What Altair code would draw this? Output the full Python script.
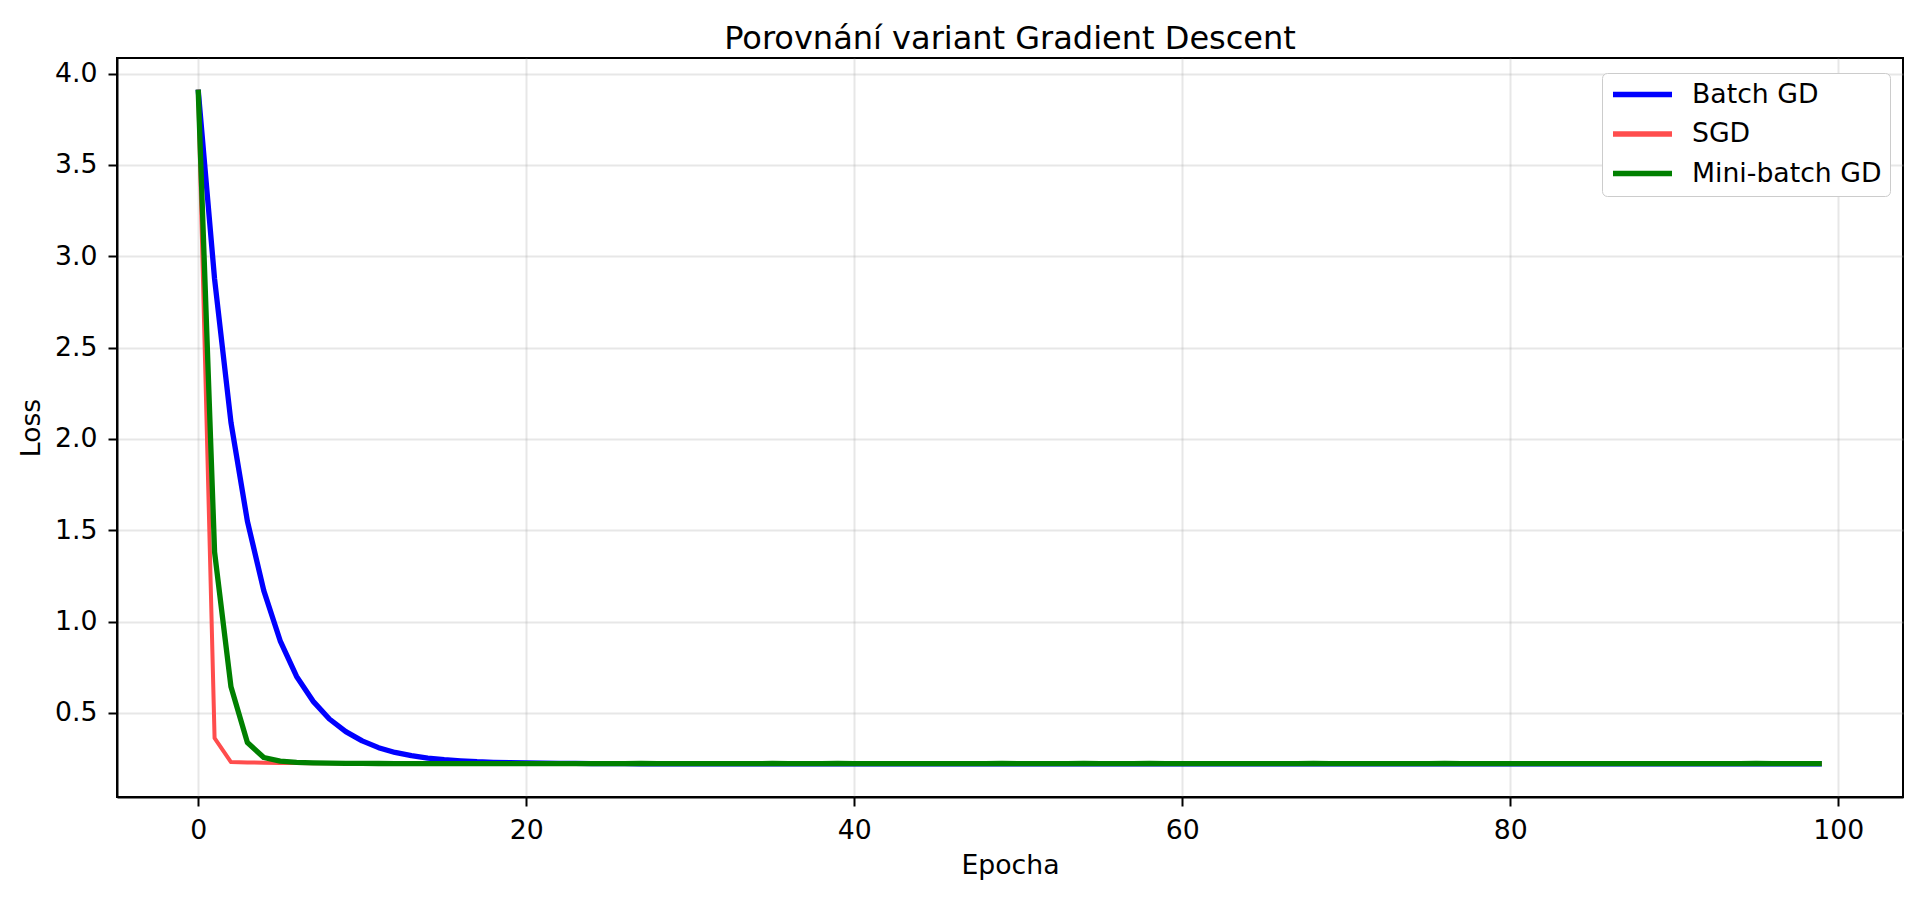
import altair as alt
import pandas as pd

# ---- data ----
series_names = ["Batch GD", "SGD", "Mini-batch GD"]
series_colors = ["#0000ff", "#ff4d4d", "#008000"]
series_widths = [5.3, 4.0, 5.3]

epochs = list(range(100))

batch_gd = [
    3.912, 2.875, 2.090, 1.550, 1.170, 0.895, 0.700, 0.565, 0.467, 0.398,
    0.347, 0.310, 0.284, 0.266, 0.253, 0.244, 0.238, 0.233, 0.230, 0.228,
    0.2265, 0.2255, 0.2245, 0.2238, 0.2232, 0.2228, 0.2224, 0.2221, 0.2219, 0.2217,
    0.2216, 0.2215, 0.2214, 0.2213, 0.2213, 0.2212, 0.2212, 0.2211, 0.2211, 0.2211,
    0.2210, 0.2210, 0.2210, 0.2210, 0.2210, 0.2210, 0.2210, 0.2210, 0.2210, 0.2210,
    0.2210, 0.2210, 0.2210, 0.2210, 0.2210, 0.2210, 0.2210, 0.2210, 0.2210, 0.2210,
    0.2210, 0.2210, 0.2210, 0.2210, 0.2210, 0.2210, 0.2210, 0.2210, 0.2210, 0.2210,
    0.2210, 0.2210, 0.2210, 0.2210, 0.2210, 0.2210, 0.2210, 0.2210, 0.2210, 0.2210,
    0.2210, 0.2210, 0.2210, 0.2210, 0.2210, 0.2210, 0.2210, 0.2210, 0.2210, 0.2210,
    0.2210, 0.2210, 0.2210, 0.2210, 0.2210, 0.2210, 0.2210, 0.2210, 0.2210, 0.2210,
]

sgd = [
    3.912, 0.362, 0.231, 0.2295, 0.228, 0.2265, 0.2255, 0.2248, 0.2242, 0.2238,
    0.2232, 0.2228, 0.2226, 0.2224, 0.2222, 0.2221, 0.2222, 0.2220, 0.2221, 0.2222,
    0.2221, 0.2220, 0.2222, 0.2221, 0.2220, 0.2221, 0.2222, 0.2221, 0.2220, 0.2221,
    0.2222, 0.2221, 0.2220, 0.2221, 0.2222, 0.2221, 0.2220, 0.2221, 0.2222, 0.2221,
    0.2220, 0.2221, 0.2222, 0.2221, 0.2220, 0.2221, 0.2222, 0.2221, 0.2220, 0.2221,
    0.2222, 0.2221, 0.2220, 0.2221, 0.2222, 0.2221, 0.2220, 0.2221, 0.2222, 0.2221,
    0.2220, 0.2221, 0.2222, 0.2221, 0.2220, 0.2221, 0.2222, 0.2221, 0.2220, 0.2221,
    0.2222, 0.2221, 0.2220, 0.2221, 0.2222, 0.2221, 0.2220, 0.2221, 0.2222, 0.2221,
    0.2220, 0.2221, 0.2222, 0.2221, 0.2220, 0.2221, 0.2222, 0.2221, 0.2220, 0.2221,
    0.2222, 0.2221, 0.2220, 0.2221, 0.2222, 0.2221, 0.2220, 0.2221, 0.2222, 0.2221,
]

mini_batch_gd = [
    3.912, 1.380, 0.643, 0.338, 0.256, 0.236, 0.2295, 0.2265, 0.2252, 0.2245,
    0.2238, 0.2233, 0.2230, 0.2228, 0.2227, 0.2226, 0.2225, 0.2226, 0.2225, 0.2225,
    0.2226, 0.2225, 0.2225, 0.2226, 0.2225, 0.2225, 0.2226, 0.2240, 0.2226, 0.2225,
    0.2225, 0.2226, 0.2225, 0.2225, 0.2226, 0.2236, 0.2225, 0.2226, 0.2225, 0.2235,
    0.2226, 0.2225, 0.2225, 0.2226, 0.2225, 0.2225, 0.2226, 0.2225, 0.2225, 0.2236,
    0.2225, 0.2226, 0.2225, 0.2225, 0.2236, 0.2225, 0.2226, 0.2225, 0.2237, 0.2226,
    0.2225, 0.2225, 0.2226, 0.2225, 0.2225, 0.2226, 0.2225, 0.2225, 0.2240, 0.2226,
    0.2225, 0.2225, 0.2226, 0.2225, 0.2225, 0.2226, 0.2238, 0.2225, 0.2226, 0.2225,
    0.2225, 0.2226, 0.2225, 0.2225, 0.2226, 0.2225, 0.2225, 0.2226, 0.2225, 0.2225,
    0.2226, 0.2225, 0.2225, 0.2226, 0.2225, 0.2236, 0.2226, 0.2225, 0.2225, 0.2226,
]

x_ticks = [0, 20, 40, 60, 80, 100]
y_ticks = [0.5, 1.0, 1.5, 2.0, 2.5, 3.0, 3.5, 4.0]

title_text = "Porovnání variant Gradient Descent"
x_title = "Epocha"
y_title = "Loss"

# ---- long table ----
rows = []
for name, vals in zip(series_names, [batch_gd, sgd, mini_batch_gd]):
    for e, v in zip(epochs, vals):
        rows.append({"Epocha": e, "Loss": v, "series": name})
df = pd.DataFrame(rows)

FONT = "DejaVu Sans"
PLOT_W, PLOT_H = 1786, 739

x_enc = alt.X(
    "Epocha:Q",
    scale=alt.Scale(domain=[-4.95, 103.95], nice=False, zero=False),
    axis=alt.Axis(values=x_ticks, title=x_title, format="d",
                  labelPadding=11, titleY=68, titleBaseline="middle"),
)
y_enc = alt.Y(
    "Loss:Q",
    scale=alt.Scale(domain=[0.040, 4.085], nice=False, zero=False),
    axis=alt.Axis(values=y_ticks, title=y_title, format=".1f",
                  labelPadding=11, titleX=-86, titleY=PLOT_H / 2,
                  titleAlign="center", titleBaseline="middle", titleAngle=-90),
)
color_enc = alt.Color(
    "series:N",
    scale=alt.Scale(domain=series_names, range=series_colors),
    legend=alt.Legend(
        title=None, orient="none", legendX=1485, legendY=15,
        symbolType="stroke", symbolSize=3481, symbolStrokeWidth=5.3,
        labelFontSize=26.7, labelFont=FONT, labelColor="black", labelLimit=500,
        labelOffset=17, rowPadding=11.5, clipHeight=27,
        padding=8, strokeColor="#cccccc", fillColor="white",
        cornerRadius=5,
    ),
)

base = alt.Chart(df)
layers = []
for name, w in zip(series_names, series_widths):
    layers.append(
        base.transform_filter(alt.datum.series == name)
        .mark_line(strokeWidth=w, clip=True, strokeJoin="round")
        .encode(x=x_enc, y=y_enc, color=color_enc)
    )

chart = (
    alt.layer(*layers)
    .properties(
        width=PLOT_W,
        height=PLOT_H,
        title=alt.TitleParams(title_text, fontSize=32, font=FONT, fontWeight="normal",
                              color="black", anchor="middle", baseline="bottom",
                              offset=3, dy=33),
        autosize=alt.AutoSizeParams(type="none"),
        padding={"left": 109, "top": 50, "right": 10, "bottom": 90},
    )
    .configure_view(stroke="black", strokeWidth=2)
    .configure_axis(
        domainColor="black", domainWidth=2,
        tickColor="black", tickWidth=2, tickSize=9,
        labelFont=FONT, labelFontSize=26.7, labelColor="black",
        titleFont=FONT, titleFontSize=26.7, titleFontWeight="normal", titleColor="black",
        gridColor="#b0b0b0", gridOpacity=0.3, gridWidth=2,
    )
)

chart.save("out.html", embed_options={"renderer": "svg", "actions": False})
